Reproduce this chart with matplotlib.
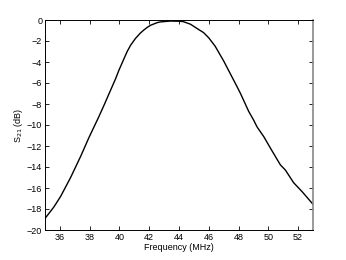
import numpy as np
import matplotlib.pyplot as plt

freq = [35.0, 35.6, 36.05, 36.72, 37.39, 37.95, 38.62, 39.0, 39.4, 39.74,
        39.96, 40.3, 40.52, 40.75, 41.08, 41.4, 41.64, 41.87, 42.09, 42.54,
        42.76, 43.43, 44.08, 44.3, 44.77, 45.2, 45.65, 46.0, 46.43, 47.0,
        47.44, 47.88, 48.13, 48.68, 49.0, 49.25, 49.69, 50.14, 50.81, 51.15,
        51.7, 52.27, 53.0]
s21 = [-18.9, -17.8, -16.8, -15.0, -13.0, -11.2, -9.2, -8.0, -6.7, -5.6,
       -4.8, -3.7, -3.0, -2.4, -1.75, -1.25, -0.95, -0.7, -0.5, -0.25,
       -0.18, -0.1, -0.12, -0.16, -0.4, -0.8, -1.2, -1.7, -2.5, -3.9,
       -5.1, -6.3, -7.0, -8.7, -9.5, -10.2, -11.1, -12.2, -13.8, -14.3,
       -15.5, -16.35, -17.55]

xticks = [36, 38, 40, 42, 44, 46, 48, 50, 52]
yticks = [0, -2, -4, -6, -8, -10, -12, -14, -16, -18, -20]

plt.rcParams['font.family'] = ['Liberation Sans', 'DejaVu Sans']

fig = plt.figure(figsize=(3.46, 2.6), dpi=100)
ax = fig.add_axes([45 / 346, 30 / 260, 268 / 346, 210 / 260])
ax.plot(freq, s21, color='black', lw=1.0)

ax.set_xlim(35, 53)
ax.set_ylim(-20, 0)
ax.set_xticks(xticks)
ax.set_yticks(yticks)
ax.tick_params(direction='in', top=True, right=True, labelsize=6.5,
               length=3, width=0.6, pad=2)
for s in ax.spines.values():
    s.set_linewidth(0.7)
ax.spines['right'].set_color('#888888')
ax.spines['right'].set_linewidth(1.2)

ax.set_xlabel('Frequency (MHz)', fontsize=6.5, labelpad=1)
ax.set_ylabel('S$_{21}$ (dB)', fontsize=6.5, labelpad=1)

fig.savefig('out.png', dpi=100)
